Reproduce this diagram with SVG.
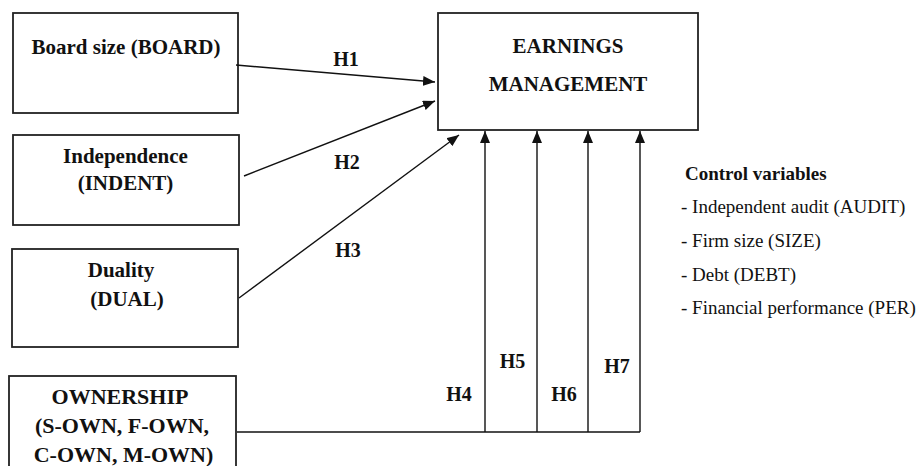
<svg xmlns="http://www.w3.org/2000/svg" width="922" height="466" viewBox="0 0 922 466">
<style>
.box{fill:#fff;stroke:#222;stroke-width:1.8}
.bt{font-family:"Liberation Serif","Times New Roman",serif;font-weight:bold;font-size:21px;fill:#111;text-anchor:middle}
.hl{font-family:"Liberation Serif","Times New Roman",serif;font-weight:bold;font-size:20px;fill:#111;text-anchor:middle}
.cv{font-family:"Liberation Serif","Times New Roman",serif;font-size:19px;fill:#111}
.cvb{font-family:"Liberation Serif","Times New Roman",serif;font-size:19px;font-weight:bold;fill:#111}
.ln{fill:none;stroke:#111;stroke-width:1.4}
</style>
<defs>
<marker id="ah" viewBox="0 0 12 10" refX="12" refY="5" markerWidth="12" markerHeight="10" markerUnits="userSpaceOnUse" orient="auto">
<path d="M0,0 L12,5 L0,10 Z" fill="#111"/>
</marker>
</defs>
<rect width="922" height="466" fill="#fff"/>
<g id="board">
<rect class="box" x="13" y="13" width="225" height="100"/>
<text class="bt" x="126" y="54">Board size (BOARD)</text>
</g>
<g id="indent">
<rect class="box" x="13" y="135" width="226" height="90"/>
<text class="bt" x="125.5" y="163">Independence</text>
<text class="bt" x="125.5" y="190">(INDENT)</text>
</g>
<g id="dual">
<rect class="box" x="12" y="249" width="226" height="98"/>
<text class="bt" x="121" y="277">Duality</text>
<text class="bt" x="127" y="306">(DUAL)</text>
</g>
<g id="ownership">
<rect class="box" x="9" y="376" width="227" height="110"/>
<text class="bt" x="120" y="404" style="font-size:22px">OWNERSHIP</text>
<text class="bt" x="122" y="433" style="font-size:22px">(S-OWN, F-OWN,</text>
<text class="bt" x="123.5" y="462" style="font-size:22px">C-OWN, M-OWN)</text>
</g>
<g id="earnings">
<rect class="box" x="438" y="13" width="260" height="117"/>
<text class="bt" x="568" y="53">EARNINGS</text>
<text class="bt" x="568" y="91">MANAGEMENT</text>
</g>
<g id="controls">
<text class="cvb" x="685" y="180">Control variables</text>
<text class="cv" x="681" y="213">- Independent audit (AUDIT)</text>
<text class="cv" x="681" y="247">- Firm size (SIZE)</text>
<text class="cv" x="681" y="281">- Debt (DEBT)</text>
<text class="cv" x="681" y="314">- Financial performance (PER)</text>
</g>
<g id="connectors">
<line class="ln" x1="236" y1="65" x2="435" y2="82" marker-end="url(#ah)"/>
<line class="ln" x1="244" y1="176" x2="435" y2="101" marker-end="url(#ah)"/>
<line class="ln" x1="239" y1="298" x2="459" y2="135" marker-end="url(#ah)"/>
<line class="ln" x1="237" y1="432" x2="640" y2="432"/>
<line class="ln" x1="485" y1="432" x2="485" y2="131" marker-end="url(#ah)"/>
<line class="ln" x1="537" y1="432" x2="537" y2="131" marker-end="url(#ah)"/>
<line class="ln" x1="588" y1="432" x2="588" y2="131" marker-end="url(#ah)"/>
<line class="ln" x1="640" y1="432" x2="640" y2="131" marker-end="url(#ah)"/>
<text class="hl" x="346" y="66">H1</text>
<text class="hl" x="347" y="169">H2</text>
<text class="hl" x="348" y="257">H3</text>
<text class="hl" x="459" y="401">H4</text>
<text class="hl" x="512.5" y="368">H5</text>
<text class="hl" x="564" y="401">H6</text>
<text class="hl" x="617" y="373">H7</text>
</g>
</svg>
